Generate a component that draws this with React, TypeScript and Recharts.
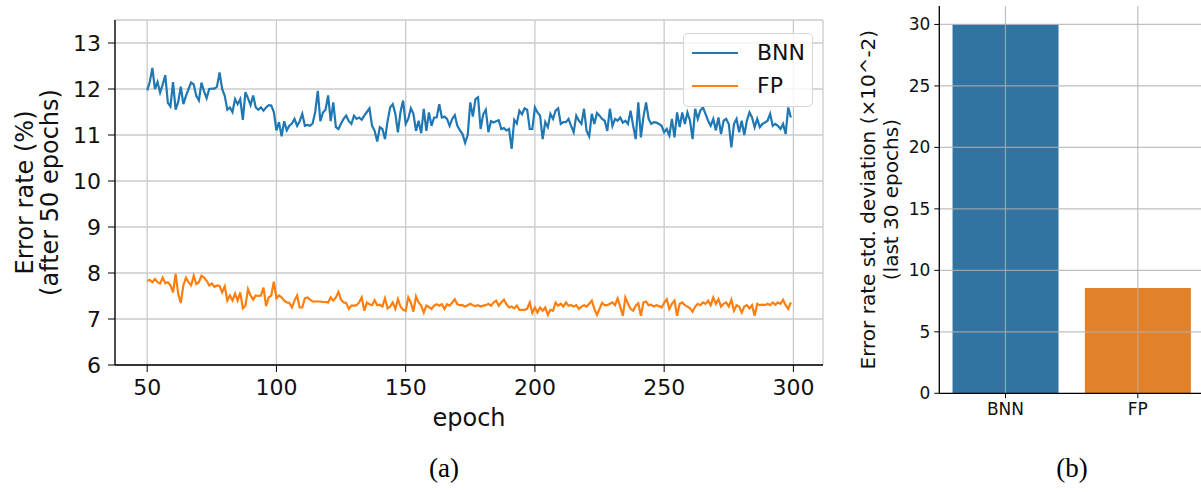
import React from 'react';
import {
  LineChart,
  Line,
  BarChart,
  Bar,
  Cell,
  XAxis,
  YAxis,
  CartesianGrid,
  Legend,
  ReferenceLine,
} from 'recharts';

// (a) error rate per epoch, epochs 50..299
const START_EPOCH = 50;

const bnnError = [
  11.97, 12.15, 12.46, 12.0, 12.15, 11.92, 12.1, 12.3, 11.7, 11.62,
  12.15, 11.55, 11.72, 12.05, 11.67, 11.85, 12.0, 12.14, 12.1, 11.85,
  11.75, 12.14, 11.95, 11.8, 12.0, 12.01, 12.01, 12.05, 12.36, 12.0,
  11.85, 11.55, 11.6, 11.5, 11.78, 11.67, 11.78, 11.33, 11.93, 11.8,
  11.65, 11.86, 11.6, 11.55, 11.6, 11.53, 11.6, 11.65, 11.64, 11.5,
  11.1, 11.28, 10.97, 11.3, 11.1, 11.2, 11.25, 11.35, 11.2, 11.3,
  11.46, 11.2, 11.22, 11.2, 11.25, 11.5, 11.96, 11.3, 11.49, 11.55,
  11.86, 11.3, 11.71, 11.17, 11.13, 11.25, 11.35, 11.42, 11.3, 11.24,
  11.42, 11.35, 11.38, 11.33, 11.42, 11.5, 11.58, 11.2, 11.09, 10.86,
  11.17, 11.13, 10.91, 11.3, 11.6, 11.67, 11.46, 11.06, 11.5, 11.75,
  11.24, 11.35, 11.58, 11.46, 11.09, 11.31, 11.04, 11.57, 11.09, 11.49,
  11.2, 11.38, 11.38, 11.67, 11.38, 11.4, 11.35, 11.2, 11.35, 11.43,
  11.2, 11.1, 11.02, 10.83, 11.0, 11.71, 11.4, 11.78, 11.82, 11.13,
  11.45, 11.55, 11.06, 11.3, 11.27, 11.3, 11.32, 11.13, 11.15, 11.1,
  11.13, 10.7, 11.33, 11.25, 11.53, 11.45, 11.58, 11.55, 11.13, 11.13,
  11.6, 11.49, 11.42, 10.91, 11.28, 11.17, 11.46, 11.35, 11.53, 11.58,
  11.24, 11.28, 11.28, 11.35, 11.2, 11.06, 11.42, 11.31, 11.24, 11.57,
  11.09, 10.97, 11.46, 11.24, 11.48, 11.42, 11.35, 11.31, 11.09, 11.57,
  11.2, 11.35, 11.31, 11.38, 11.27, 11.31, 11.24, 11.53, 11.2, 10.91,
  11.71, 10.95, 11.4, 11.71, 11.35, 11.24, 11.28, 11.27, 11.24, 11.2,
  11.06, 11.13, 10.99, 11.35, 10.95, 11.49, 11.17, 11.49, 11.24, 11.49,
  11.31, 10.91, 11.57, 11.35, 11.53, 11.6, 11.46, 11.31, 11.2, 11.35,
  11.1, 11.38, 11.02, 11.31, 11.35, 11.24, 10.73, 11.24, 11.35, 11.06,
  11.31, 11.0, 11.31, 11.49, 11.38, 11.17, 11.35, 11.17, 11.24, 11.27,
  11.31, 11.46, 11.2, 11.24, 11.2, 11.13, 11.24, 11.02, 11.6, 11.38,
];

const fpError = [
  7.83, 7.85, 7.8, 7.87, 7.8, 7.77, 7.9, 7.78, 7.8, 7.73,
  7.58, 7.98, 7.55, 7.35, 7.73, 7.9, 7.8, 7.73, 7.94, 7.76,
  7.8, 7.94, 7.9, 7.83, 7.73, 7.77, 7.7, 7.73, 7.72, 7.58,
  7.71, 7.4, 7.51, 7.4, 7.55, 7.4, 7.58, 7.23, 7.29, 7.65,
  7.51, 7.42, 7.51, 7.5, 7.51, 7.68, 7.28, 7.47, 7.51, 7.81,
  7.45, 7.51, 7.47, 7.4, 7.36, 7.35, 7.25, 7.4, 7.51, 7.25,
  7.25, 7.45, 7.47, 7.42, 7.38, 7.38, 7.38, 7.38, 7.37, 7.37,
  7.36, 7.47, 7.4, 7.47, 7.59, 7.42, 7.36, 7.35, 7.22, 7.29,
  7.29, 7.3, 7.36, 7.47, 7.18, 7.36, 7.32, 7.3, 7.41, 7.3,
  7.31, 7.27, 7.45, 7.23, 7.27, 7.36, 7.22, 7.43, 7.27, 7.2,
  7.18, 7.47, 7.36, 7.16, 7.49, 7.36, 7.29, 7.14, 7.29, 7.26,
  7.22, 7.29, 7.32, 7.29, 7.32, 7.22, 7.32, 7.29, 7.36, 7.43,
  7.32, 7.3, 7.3, 7.27, 7.3, 7.33, 7.3, 7.28, 7.3, 7.27,
  7.29, 7.3, 7.33, 7.29, 7.36, 7.4, 7.29, 7.36, 7.42, 7.32,
  7.25, 7.27, 7.23, 7.29, 7.2, 7.2, 7.2, 7.22, 7.36, 7.13,
  7.25, 7.14, 7.25, 7.18, 7.25, 7.09, 7.2, 7.18, 7.36, 7.29,
  7.33, 7.27, 7.36, 7.29, 7.3, 7.27, 7.3, 7.22, 7.27, 7.3,
  7.27, 7.33, 7.4, 7.22, 7.09, 7.22, 7.35, 7.3, 7.3, 7.33,
  7.36, 7.3, 7.45, 7.27, 7.07, 7.47, 7.33, 7.22, 7.18, 7.29,
  7.34, 7.07, 7.36, 7.38, 7.3, 7.31, 7.27, 7.3, 7.28, 7.25,
  7.35, 7.43, 7.22, 7.33, 7.4, 7.07, 7.33, 7.36, 7.3, 7.27,
  7.23, 7.16, 7.27, 7.33, 7.3, 7.36, 7.33, 7.4, 7.3, 7.47,
  7.33, 7.43, 7.27, 7.33, 7.36, 7.27, 7.42, 7.18, 7.3, 7.27,
  7.14, 7.27, 7.3, 7.23, 7.3, 7.07, 7.33, 7.3, 7.31, 7.3,
  7.33, 7.3, 7.36, 7.31, 7.36, 7.33, 7.42, 7.3, 7.22, 7.36,
];

const epochTicks = [50, 100, 150, 200, 250, 300];
const errorTicks = [6, 7, 8, 9, 10, 11, 12, 13];

// (b) std deviation of last 30 epochs (x10^-2)
const stdCategories = ['BNN', 'FP'];
const stdValues = [30.0, 8.57];
const stdTicks = [0, 5, 10, 15, 20, 25, 30];

const BLUE = '#1f77b4';
const ORANGE = '#ff7f0e';
const BAR_COLORS = ['#3274a1', '#e1812c'];
const FONT = '"DejaVu Sans", sans-serif';
const INK = '#111';
const GRID = '#cbcbcb';
const BAR_GRID = 'rgba(176,176,176,0.8)';

const lineData = bnnError.map((v, i) => ({
  epoch: START_EPOCH + i,
  bnn: v,
  fp: fpError[i],
}));

const barData = stdCategories.map((name, i) => ({ name, value: stdValues[i] }));

function rotatedLabel(lines: string[], xs: number[], fontSize: number) {
  return ({ viewBox }: any) => {
    const cy = viewBox.y + viewBox.height / 2;
    return (
      <g>
        {lines.map((t, i) => (
          <text
            key={t}
            x={xs[i]}
            y={cy}
            transform={`rotate(-90 ${xs[i]} ${cy})`}
            textAnchor="middle"
            dominantBaseline="central"
            fontSize={fontSize}
            fontFamily={FONT}
            fill={INK}
          >
            {t}
          </text>
        ))}
      </g>
    );
  };
}

function epochLabel({ viewBox }: any) {
  return (
    <text
      x={viewBox.x + viewBox.width / 2}
      y={418}
      textAnchor="middle"
      dominantBaseline="central"
      fontSize={24}
      fontFamily={FONT}
      fill={INK}
    >
      epoch
    </text>
  );
}

function ErrorLegend() {
  const items = [
    { label: 'BNN', color: BLUE },
    { label: 'FP', color: ORANGE },
  ];
  return (
    <div
      style={{
        position: 'relative',
        width: 130,
        height: 74,
        boxSizing: 'border-box',
        border: '1px solid #d6d6d6',
        borderRadius: 5,
        background: 'rgba(255,255,255,0.8)',
        fontFamily: FONT,
      }}
    >
      {items.map((it, i) => (
        <div
          key={it.label}
          style={{
            position: 'absolute',
            left: 0,
            top: 4.7 + i * 33.3,
            height: 28,
            display: 'flex',
            alignItems: 'center',
          }}
        >
          <svg width={60} height={28} style={{ display: 'block' }}>
            <line x1={8} x2={54} y1={14} y2={14} stroke={it.color} strokeWidth={2.2} />
          </svg>
          <span style={{ marginLeft: 13, fontSize: 22, color: INK, lineHeight: '28px' }}>
            {it.label}
          </span>
        </div>
      ))}
    </div>
  );
}

const tickA = { fontSize: 22, fill: INK, fontFamily: FONT };
const tickB = { fontSize: 17, fill: INK, fontFamily: FONT };

export default function App() {
  return (
    <div
      style={{
        position: 'absolute',
        left: 0,
        top: 0,
        width: 1201,
        height: 492,
        overflow: 'hidden',
        background: '#fff',
      }}
    >
      <div style={{ position: 'absolute', left: 0, top: 0 }}>
        <LineChart
          width={830}
          height={440}
          data={lineData}
          margin={{ top: 20, right: 7, bottom: 0, left: 0 }}
        >
          <CartesianGrid stroke={GRID} strokeWidth={1.3} />
          <XAxis
            dataKey="epoch"
            type="number"
            domain={[37.55, 311.45]}
            ticks={epochTicks}
            allowDataOverflow
            height={75}
            tickSize={7}
            tickMargin={7}
            tick={tickA}
            stroke="#000"
            axisLine={{ stroke: '#000', strokeWidth: 1.3 }}
            label={{ content: epochLabel }}
          />
          <XAxis
            xAxisId="top"
            orientation="top"
            dataKey="epoch"
            type="number"
            domain={[37.55, 311.45]}
            height={0}
            tick={false}
            tickLine={false}
            axisLine={{ stroke: '#000', strokeWidth: 1.3 }}
          />
          <YAxis
            type="number"
            domain={[6, 13.5]}
            ticks={errorTicks}
            allowDataOverflow
            width={115}
            tickSize={7}
            tickMargin={7}
            tick={tickA}
            stroke="#000"
            axisLine={{ stroke: '#000', strokeWidth: 1.3 }}
            label={{ content: rotatedLabel(['Error rate (%)', '(after 50 epochs)'], [25, 50], 24) }}
          />
          <YAxis
            yAxisId="right"
            orientation="right"
            type="number"
            domain={[6, 13.5]}
            width={0}
            tick={false}
            tickLine={false}
            axisLine={{ stroke: '#000', strokeWidth: 1.3 }}
          />
          <Line
            type="linear"
            dataKey="bnn"
            name="BNN"
            stroke={BLUE}
            strokeWidth={2.2}
            dot={false}
            isAnimationActive={false}
          />
          <Line
            type="linear"
            dataKey="fp"
            name="FP"
            stroke={ORANGE}
            strokeWidth={2.2}
            dot={false}
            isAnimationActive={false}
          />
          <Legend
            layout="horizontal"
            verticalAlign="middle"
            align="center"
            content={ErrorLegend}
            wrapperStyle={{ left: 683, top: 33, width: 130, height: 74 }}
          />
        </LineChart>
      </div>

      <div style={{ position: 'absolute', left: 840, top: 0 }}>
        <BarChart
          width={364}
          height={430}
          data={barData}
          margin={{ top: 6, right: 0, bottom: 0, left: 0 }}
          barCategoryGap="10%"
        >
          <XAxis
            dataKey="name"
            height={36.7}
            tickSize={5}
            tickMargin={5}
            tick={tickB}
            stroke="#000"
            axisLine={{ stroke: '#000', strokeWidth: 1.3 }}
          />
          <XAxis
            xAxisId="top"
            orientation="top"
            dataKey="name"
            height={0}
            tick={false}
            tickLine={false}
            axisLine={{ stroke: '#000', strokeWidth: 1.3 }}
          />
          <YAxis
            type="number"
            domain={[0, 31.5]}
            ticks={stdTicks}
            allowDataOverflow
            width={99.3}
            tickSize={5}
            tickMargin={4}
            tick={tickB}
            stroke="#000"
            axisLine={{ stroke: '#000', strokeWidth: 1.3 }}
            label={{
              content: rotatedLabel(
                ['Error rate std. deviation (×10^-2)', '(last 30 epochs)'],
                [28, 51],
                20
              ),
            }}
          />
          <Bar dataKey="value" isAnimationActive={false}>
            {barData.map((d, i) => (
              <Cell key={d.name} fill={BAR_COLORS[i]} />
            ))}
          </Bar>
          {stdTicks.slice(1).map((t) => (
            <ReferenceLine key={`h${t}`} y={t} stroke={BAR_GRID} strokeWidth={1.2} />
          ))}
          {stdCategories.map((c) => (
            <ReferenceLine key={`v${c}`} x={c} stroke={BAR_GRID} strokeWidth={1.2} />
          ))}
        </BarChart>
      </div>

      <div
        style={{
          position: 'absolute',
          left: 444,
          top: 468,
          transform: 'translate(-50%, -50%)',
          fontFamily: '"Liberation Serif", serif',
          fontSize: 27,
          color: '#000',
        }}
      >
        (a)
      </div>
      <div
        style={{
          position: 'absolute',
          left: 1072,
          top: 468,
          transform: 'translate(-50%, -50%)',
          fontFamily: '"Liberation Serif", serif',
          fontSize: 27,
          color: '#000',
        }}
      >
        (b)
      </div>
    </div>
  );
}
